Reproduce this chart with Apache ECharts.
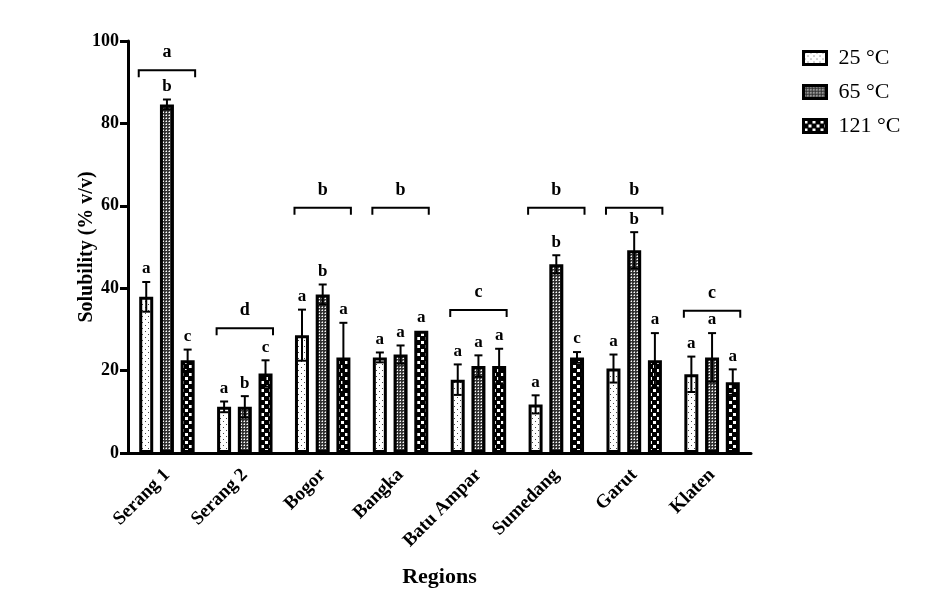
<!DOCTYPE html>
<html>
<head>
<meta charset="utf-8">
<script src="https://cdn.jsdelivr.net/npm/echarts@6/dist/echarts.min.js"></script>
<style>
  html, body { margin: 0; padding: 0; background: #fff; }
  #solubility_chart { width: 933px; height: 606px; }
</style>
</head>
<body>
<div id="solubility_chart"></div>
<script>
var regions = ["Serang 1", "Serang 2", "Bogor", "Bangka", "Batu Ampar", "Sumedang", "Garut", "Klaten"];
var temps = ["25 °C", "65 °C", "121 °C"];

// mean solubility and error (SD) per temperature
var mean25 = [37.9, 11.2, 28.6, 23.2, 17.8, 11.8, 20.5, 19.1];
var err25 = [3.6, 1.3, 6.2, 1.2, 3.7, 2.2, 3.4, 4.3];
var mean65 = [84.6, 11.2, 38.5, 23.9, 21.1, 45.8, 49.2, 23.2];
var err65 = [1.2, 2.6, 2.4, 2.2, 2.6, 2.2, 4.4, 5.9];
var mean121 = [22.5, 19.3, 23.2, 29.7, 21.1, 23.2, 22.5, 17.2];
var err121 = [2.6, 3.2, 8.4, 0, 4.2, 1.3, 6.6, 3.1];

// letters over each bar
var letters25 = ["a", "a", "a", "a", "a", "a", "a", "a"];
var letters65 = ["b", "b", "b", "a", "a", "b", "b", "a"];
var letters121 = ["c", "c", "a", "a", "a", "c", "a", "a"];

// letters over the region brackets
var groupLetters = ["a", "d", "b", "b", "c", "b", "b", "c"];
var groupLevels = [92.9, 30.3, 59.5, 59.5, 34.7, 59.5, 59.5, 34.5];

var FONT = "'Liberation Serif', 'Times New Roman', serif";
var BAR_STEP = 20.7; // distance between bar centres in a group

function makePattern(type) {
  var c = document.createElement("canvas");
  var ctx = c.getContext("2d");
  if (type == 0) {
    c.width = 6; c.height = 6;
    ctx.fillStyle = "#fff";
    ctx.fillRect(0, 0, 6, 6);
    ctx.fillStyle = "#444";
    ctx.fillRect(1, 1, 1, 1);
    ctx.fillRect(4, 4, 1, 1);
  } else if (type == 1) {
    c.width = 3; c.height = 3;
    ctx.fillStyle = "#333";
    ctx.fillRect(0, 0, 3, 3);
    ctx.fillStyle = "#fff";
    ctx.fillRect(1, 1, 1, 1);
    ctx.fillStyle = "#999";
    ctx.fillRect(0, 1, 1, 1);
    ctx.fillRect(1, 0, 1, 1);
  } else {
    c.width = 8; c.height = 8;
    ctx.fillStyle = "#000";
    ctx.fillRect(0, 0, 8, 8);
    ctx.fillStyle = "#fff";
    ctx.fillRect(1, 1, 3, 3);
    ctx.fillRect(5, 5, 3, 3);
  }
  return { image: c, repeat: "repeat" };
}

var means = [mean25, mean65, mean121];
var errs = [err25, err65, err121];
var letters = [letters25, letters65, letters121];

var errData = [];
for (var k = 0; k < 3; k++) {
  for (var i = 0; i < regions.length; i++) {
    errData.push([i, means[k][i], errs[k][i], k, letters[k][i]]);
  }
}
var groupData = [];
for (var j = 0; j < regions.length; j++) {
  groupData.push([j, groupLevels[j], groupLetters[j]]);
}

var barSeries = temps.map(function (t, k) {
  return {
    name: t,
    type: "bar",
    barWidth: 14,
    barGap: "48%",
    data: means[k],
    itemStyle: {
      color: makePattern(k),
      borderColor: "#000",
      borderWidth: 3,
    },
    emphasis: { disabled: true },
  };
});

var chart = echarts.init(document.getElementById("solubility_chart"));
var option = {
  animation: false,
  grid: { left: 128, top: 41, width: 623, bottom: 153 },
  legend: {
    data: temps,
    orient: "vertical",
    left: 797,
    top: 42,
    itemWidth: 23,
    itemHeight: 13,
    itemGap: 12,
    icon: "rect",
    selectedMode: false,
    itemStyle: { borderColor: "#000", borderWidth: 3 },
    textStyle: { fontFamily: FONT, fontSize: 22, color: "#000", padding: [0, 0, 0, 7] },
  },
  xAxis: {
    type: "category",
    data: regions,
    name: "Regions",
    nameLocation: "middle",
    nameGap: 113,
    nameTextStyle: { fontFamily: FONT, fontSize: 22, fontWeight: "bold", color: "#000" },
    axisLine: { lineStyle: { color: "#000", width: 3 } },
    axisTick: { alignWithLabel: true, length: 7, lineStyle: { color: "#000", width: 3 } },
    axisLabel: {
      interval: 0,
      rotate: 45,
      margin: 19,
      fontFamily: FONT,
      fontSize: 19,
      fontWeight: "bold",
      color: "#000",
    },
  },
  yAxis: {
    type: "value",
    min: 0,
    max: 100,
    interval: 20,
    name: "Solubility (% v/v)",
    nameLocation: "middle",
    nameGap: 31,
    nameMoveOverlap: false,
    nameTextStyle: { fontFamily: FONT, fontSize: 20, fontWeight: "bold", color: "#000" },
    axisLine: { show: true, lineStyle: { color: "#000", width: 3 } },
    axisTick: { show: true, length: 8, lineStyle: { color: "#000", width: 3 } },
    axisLabel: { margin: 9, fontFamily: FONT, fontSize: 18, fontWeight: "bold", color: "#000" },
    splitLine: { show: false },
  },
  series: barSeries.concat([
    {
      name: "errors",
      type: "custom",
      data: errData,
      silent: true,
      z: 5,
      renderItem: function (params, api) {
        var k = api.value(3);
        var dx = (k - 1) * BAR_STEP;
        var top = api.coord([api.value(0), api.value(1) + api.value(2)]);
        var bot = api.coord([api.value(0), api.value(1) - api.value(2)]);
        var x = top[0] + dx;
        var children = [];
        if (api.value(2) > 0) {
          var st = { stroke: "#000", lineWidth: 2 };
          children.push(
            { type: "line", shape: { x1: x, y1: top[1], x2: x, y2: bot[1] }, style: st },
            { type: "line", shape: { x1: x - 4, y1: top[1], x2: x + 4, y2: top[1] }, style: st },
            { type: "line", shape: { x1: x - 4, y1: bot[1], x2: x + 4, y2: bot[1] }, style: st }
          );
        }
        children.push({
          type: "text",
          style: {
            text: errData[params.dataIndex][4],
            x: x,
            y: top[1] - 13,
            align: "center",
            verticalAlign: "middle",
            font: "bold 17px " + FONT,
            fill: "#000",
          },
        });
        return { type: "group", children: children };
      },
    },
    {
      name: "brackets",
      type: "custom",
      data: groupData,
      silent: true,
      z: 5,
      renderItem: function (params, api) {
        var p = api.coord([api.value(0), api.value(1)]);
        var x0 = p[0] - BAR_STEP - 7.5;
        var x1 = p[0] + BAR_STEP + 7.5;
        return {
          type: "group",
          children: [
            {
              type: "polyline",
              shape: { points: [[x0, p[1] + 7], [x0, p[1]], [x1, p[1]], [x1, p[1] + 7]] },
              style: { stroke: "#000", lineWidth: 2, fill: null },
            },
            {
              type: "text",
              style: {
                text: groupData[params.dataIndex][2],
                x: p[0],
                y: p[1] - 18,
                align: "center",
                verticalAlign: "middle",
                font: "bold 18px " + FONT,
                fill: "#000",
              },
            },
          ],
        };
      },
    },
  ]),
};
chart.setOption(option);
</script>
</body>
</html>
